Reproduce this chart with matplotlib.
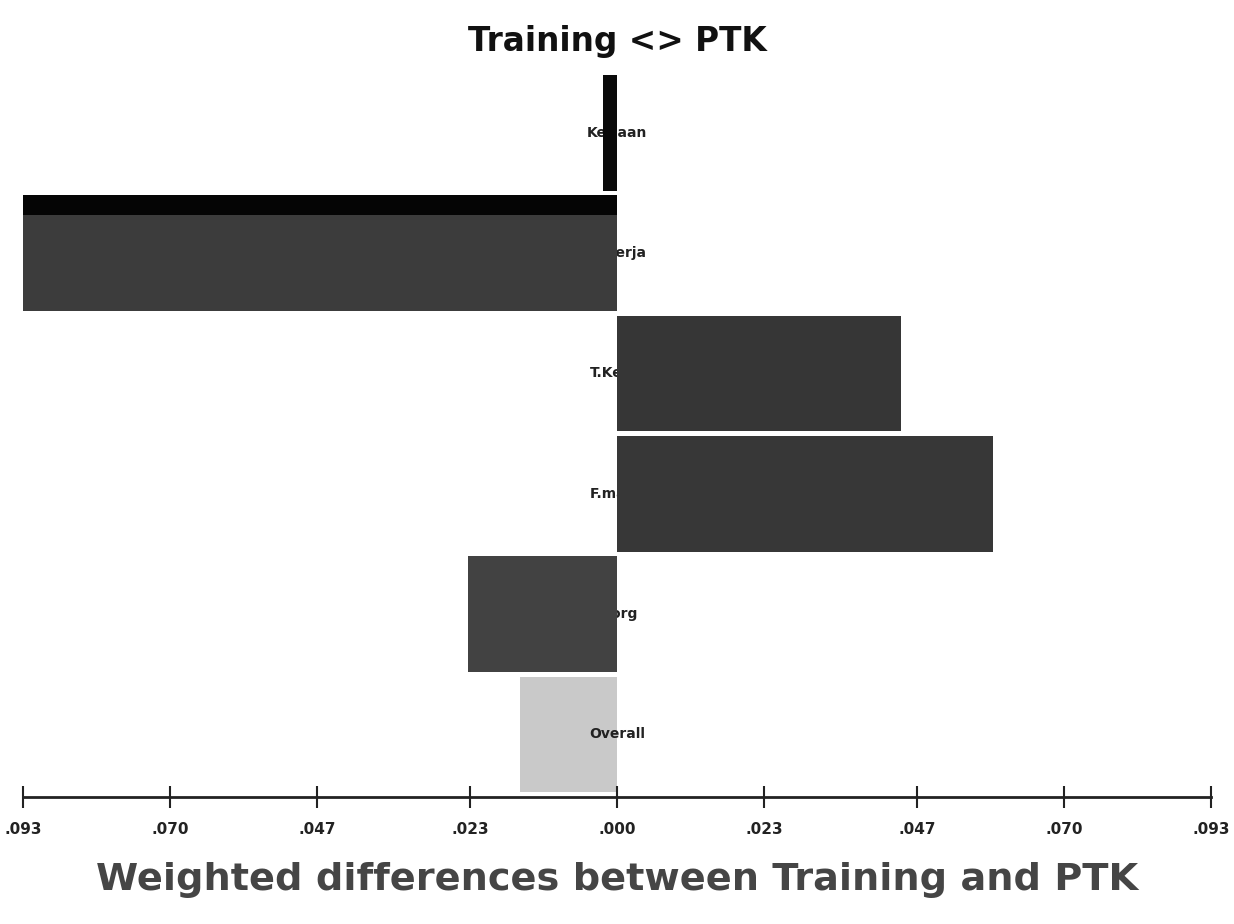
import numpy as np
import matplotlib
matplotlib.use('Agg')
import matplotlib.pyplot as plt
from matplotlib import font_manager

# ===========================================================
# data
labels = ['Kerjaan', 'Pekerja', 'T.Kerja', 'F.masa', 'K.org', 'Overall']
values = [-0.0022, -0.0930, 0.0445, 0.0589, -0.0233, -0.0152]
colors = ['#0a0a0a', '#3c3c3c', '#363636', '#373737', '#424242', '#c9c9c9']
tick_vals = [-0.093, -0.070, -0.047, -0.023, 0.0, 0.023, 0.047, 0.070, 0.093]
tick_labels = ['.093', '.070', '.047', '.023', '.000', '.023', '.047', '.070', '.093']

# look for a narrow font, the original uses a condensed face
narrow = [f.name for f in font_manager.fontManager.ttflist
          if ('Narrow' in f.name or 'Condensed' in f.name or 'condensed' in str(f.stretch))]
fam = [narrow[0], 'DejaVu Sans'] if narrow else ['DejaVu Sans']

fig = plt.figure(figsize=(12.34, 9.24), dpi=100)
ax = fig.add_axes([0.0186, 0.1374, 0.9628, 0.7866])

ypos = np.arange(len(labels))[::-1]
for i in range(len(labels)):
    # labels sit under the bars, like in the original
    ax.text(0, ypos[i], labels[i], ha='center', va='center', fontsize=10,
            fontweight='bold', family=fam, color='#222222', zorder=1)
    ax.barh(ypos[i], values[i], height=0.96, color=colors[i], zorder=2 if i < 5 else 0)

# black strip on top of the second bar
ax.barh(ypos[1] + 0.40, values[1], height=0.16, color='#050505', zorder=3)

ax.set_xlim(-0.093, 0.093)
ax.set_ylim(-0.52, 5.52)
ax.set_yticks([])
for s in ['top', 'left', 'right']:
    ax.spines[s].set_visible(False)
ax.spines['bottom'].set_linewidth(2)
ax.spines['bottom'].set_color('#222222')
ax.set_xticks(tick_vals)
ax.set_xticklabels(tick_labels, family=fam, fontsize=11, fontweight='bold')
ax.tick_params(axis='x', direction='inout', length=16, width=1.5, pad=10, colors='#222222')

title = fig.text(0.5, 0.955, 'Training <> PTK', ha='center', va='center', fontsize=34,
                 fontweight='bold', family=fam, color='#111111')
xlab = fig.text(0.5, 0.048, 'Weighted differences between Training and PTK', ha='center',
                va='center', fontsize=40, fontweight='bold', family=fam, color='#454545')

# shrink the big texts so they are about as wide as in the original
r = fig.canvas.get_renderer()
for t, w in [(title, 300), (xlab, 1040)]:
    cur = t.get_window_extent(renderer=r).width
    if cur > w:
        t.set_fontsize(t.get_fontsize() * w / cur)

fig.savefig('out.png', dpi=100)
